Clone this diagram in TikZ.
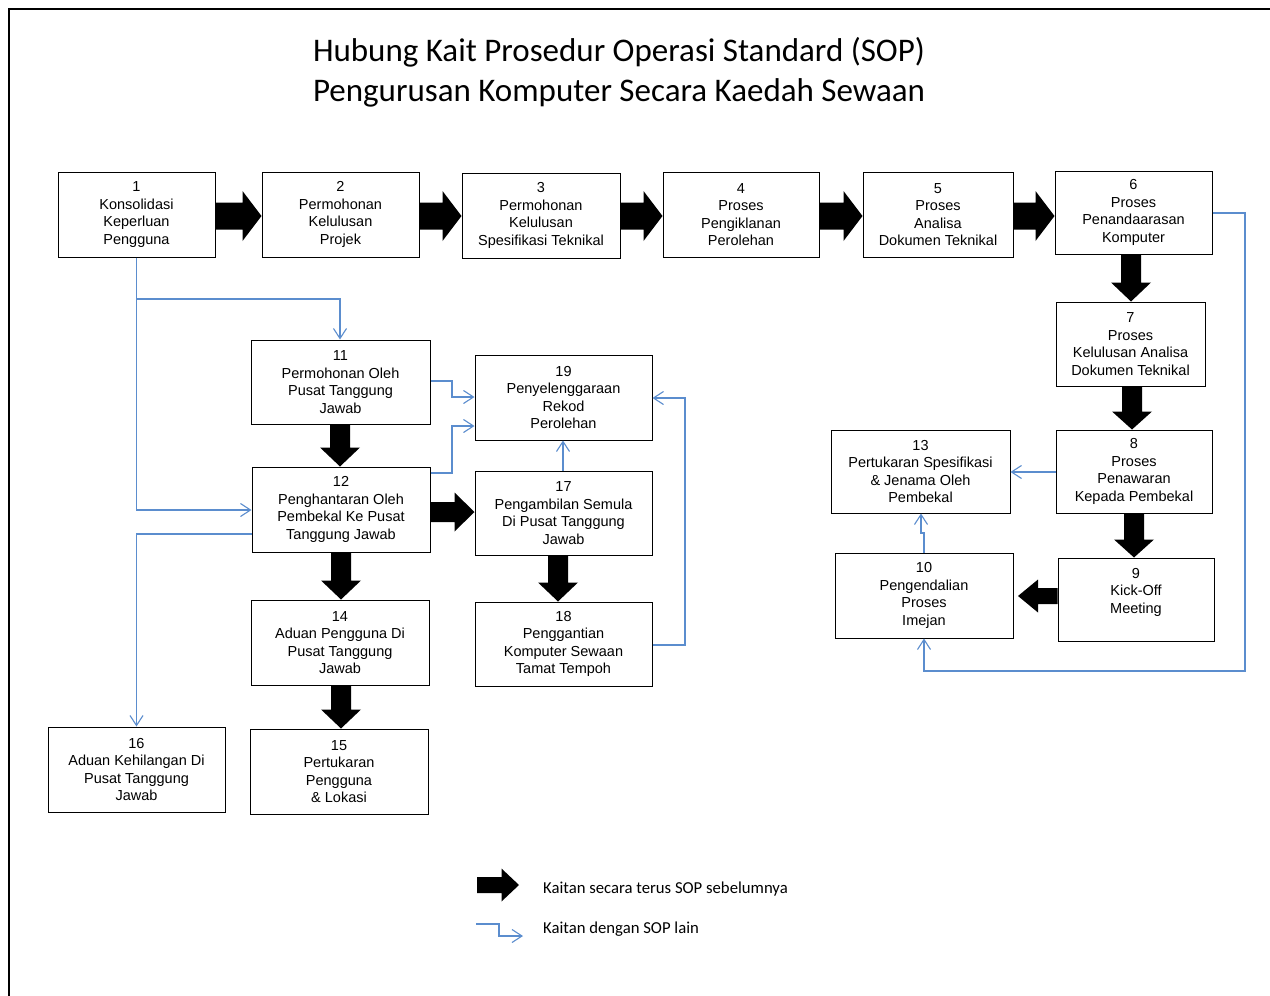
\documentclass[tikz,border=0pt]{standalone}
\usepackage{fontspec}
\setmainfont{Liberation Sans}
\newfontfamily\titlefont{Carlito}
\usetikzlibrary{calc,arrows.meta}
\definecolor{linkblue}{RGB}{91,141,206}
\tikzset{
  sop/.style={draw=black, line width=1pt, fill=white, inner sep=0pt, align=center,
              font=\fontsize{14.5}{17.6}\selectfont},
  link/.style={draw=linkblue, line width=1.1pt, -{Straight Barb[length=10pt,width=13pt]}},
  legendtext/.style={anchor=west, inner sep=0pt, font=\titlefont\fontsize{16.7}{19}\selectfont},
}
% box given by name, left, top, right, bottom, text
\newcommand{\sopbox}[6]{%
  \node[sop, minimum width={(#4-#2)*1pt}, minimum height={(#5-#3)*1pt}]
    (#1) at ({(#2+#4)/2},{(#3+#5)/2}) {#6};}
% solid block arrow: tail, tip, shaft half-width, head half-width, head length
\newcommand{\blockarrow}[5]{%
  \coordinate (ba-t) at (#1);
  \coordinate (ba-h) at (#2);
  \coordinate (ba-n) at ($(ba-h)!#5!(ba-t)$);
  \fill[black] ($(ba-t)!#3!90:(ba-h)$) -- ($(ba-n)!#3!90:(ba-h)$) -- ($(ba-n)!#4!90:(ba-h)$)
    -- (ba-h) -- ($(ba-n)!#4!-90:(ba-h)$) -- ($(ba-n)!#3!-90:(ba-h)$) -- ($(ba-t)!#3!-90:(ba-h)$) -- cycle;}
\begin{document}
\begin{tikzpicture}[x=1pt, y=-1pt]
\useasboundingbox (0,0) rectangle (1270,996);
\fill[white] (0,0) rectangle (1270,996);
% page frame
\draw[line width=2pt] (9,996) -- (9,9) -- (1270,9);

% title
\node[align=center, inner sep=0pt, font=\titlefont\fontsize{33}{40}\selectfont] (title) at (619,72)
  {Hubung Kait Prosedur Operasi Standard (SOP)\\Pengurusan Komputer Secara Kaedah Sewaan};

% top row
\sopbox{b1}{58}{172}{215}{257}{1\\Konsolidasi\\Keperluan\\Pengguna}
\sopbox{b2}{262}{172}{419}{257}{2\\Permohonan\\Kelulusan\\Projek}
\sopbox{b3}{462}{173}{620}{258}{3\\Permohonan\\Kelulusan\\Spesifikasi Teknikal}
\sopbox{b4}{663}{172}{819}{257}{4\\Proses\\Pengiklanan\\Perolehan}
\sopbox{b5}{863}{172}{1013}{257}{5\\Proses\\Analisa\\Dokumen Teknikal}
\sopbox{b6}{1055}{171}{1212}{254}{6\\Proses\\Penandaarasan\\Komputer}

% right column
\sopbox{b7}{1056}{302}{1205}{386}{7\\Proses\\Kelulusan Analisa\\Dokumen Teknikal}
\sopbox{b8}{1056}{430}{1212}{513}{8\\Proses\\Penawaran\\Kepada Pembekal}
\sopbox{b9}{1058}{558}{1214}{641}{9\\Kick-Off\\Meeting\\\mbox{}}
\sopbox{b13}{831}{430}{1010}{513}{13\\Pertukaran Spesifikasi\\\& Jenama Oleh\\Pembekal}
\sopbox{b10}{835}{553}{1013}{638}{10\\Pengendalian\\Proses\\Imejan}

% left group
\sopbox{b11}{251}{340}{430}{424}{11\\Permohonan Oleh\\Pusat Tanggung\\Jawab}
\sopbox{b19}{475}{355}{652}{440}{19\\Penyelenggaraan\\Rekod\\Perolehan}
\sopbox{b12}{252}{467}{430}{552}{12\\Penghantaran Oleh\\Pembekal Ke Pusat\\Tanggung Jawab}
\sopbox{b17}{475}{471}{652}{555}{17\\Pengambilan Semula\\Di Pusat Tanggung\\Jawab}
\sopbox{b14}{251}{600}{429}{685}{14\\Aduan Pengguna Di\\Pusat Tanggung\\Jawab}
\sopbox{b18}{475}{602}{652}{686}{18\\Penggantian\\Komputer Sewaan\\Tamat Tempoh}
\sopbox{b16}{48}{727}{225}{812}{16\\Aduan Kehilangan Di\\Pusat Tanggung\\Jawab}
\sopbox{b15}{250}{729}{428}{814}{15\\Pertukaran\\Pengguna\\\& Lokasi}

% direct sequence (block arrows)
\blockarrow{b1.east |- 0,216}{b2.west |- 0,216}{13.5pt}{25pt}{19pt}
\blockarrow{b2.east |- 0,216}{b3.west |- 0,216}{13.5pt}{25pt}{19pt}
\blockarrow{b3.east |- 0,216}{b4.west |- 0,216}{13.5pt}{25pt}{19pt}
\blockarrow{b4.east |- 0,216}{b5.west |- 0,216}{13.5pt}{25pt}{19pt}
\blockarrow{b5.east |- 0,216}{b6.west |- 0,216}{13.5pt}{25pt}{19pt}
\blockarrow{1131,0 |- b6.south}{1131,0 |- b7.north}{10pt}{20pt}{19pt}
\blockarrow{1132,0 |- b7.south}{1132,0 |- b8.north}{10pt}{20pt}{18pt}
\blockarrow{1134,0 |- b8.south}{1134,0 |- b9.north}{10pt}{20pt}{18pt}
\blockarrow{b9.west |- 0,596}{1018,596}{8pt}{16.5pt}{20pt}
\blockarrow{340,0 |- b11.south}{340,0 |- b12.north}{10pt}{20pt}{19pt}
\blockarrow{b12.east |- 0,512}{b17.west |- 0,512}{10pt}{19.5pt}{20pt}
\blockarrow{341,0 |- b12.south}{341,0 |- b14.north}{10pt}{20pt}{19pt}
\blockarrow{341,0 |- b14.south}{341,0 |- b15.north}{10pt}{20pt}{19pt}
\blockarrow{558,0 |- b17.south}{558,0 |- b18.north}{10pt}{20pt}{19pt}

% links to other procedures
\draw[link] (b1.south) -- (136.5,299) -- (340,299) -- (340,0 |- b11.north);
\draw[link] (136.5,299) -- (136.5,510) -- (b12.west |- 0,510);
\draw[link] (b12.west |- 0,534) -- (136.5,534) -- (b16.north);
\draw[link] (b11.east |- 0,381) -- (452,381) -- (452,397) -- (b19.west |- 0,397);
\draw[link] (b12.east |- 0,473) -- (452,473) -- (452,426) -- (b19.west |- 0,426);
\draw[link] (563,0 |- b17.north) -- (563,0 |- b19.south);
\draw[link] (b18.east |- 0,645) -- (685,645) -- (685,398) -- (b19.east |- 0,398);
\draw[link] (b6.east |- 0,213) -- (1245,213) -- (1245,671) -- (924,671) -- (924,0 |- b10.south);
\draw[link] (b8.west |- 0,472) -- (b13.east |- 0,472);
\draw[link] (924,0 |- b10.north) -- (924,533) -- (921,533) -- (921,0 |- b13.south);

% legend
\coordinate (lga) at (477,885);
\coordinate (lgb) at (519,885);
\blockarrow{lga}{lgb}{8pt}{16.5pt}{17.5pt}
\node[legendtext] (lgt1) at (543,889) {Kaitan secara terus SOP sebelumnya};
\coordinate (lgc) at (476,924);
\coordinate (lgd) at (523,936);
\draw[link] (lgc) -- (499,924) -- (499,936) -- (lgd);
\node[legendtext] (lgt2) at (543,929) {Kaitan dengan SOP lain};
\end{tikzpicture}
\end{document}
